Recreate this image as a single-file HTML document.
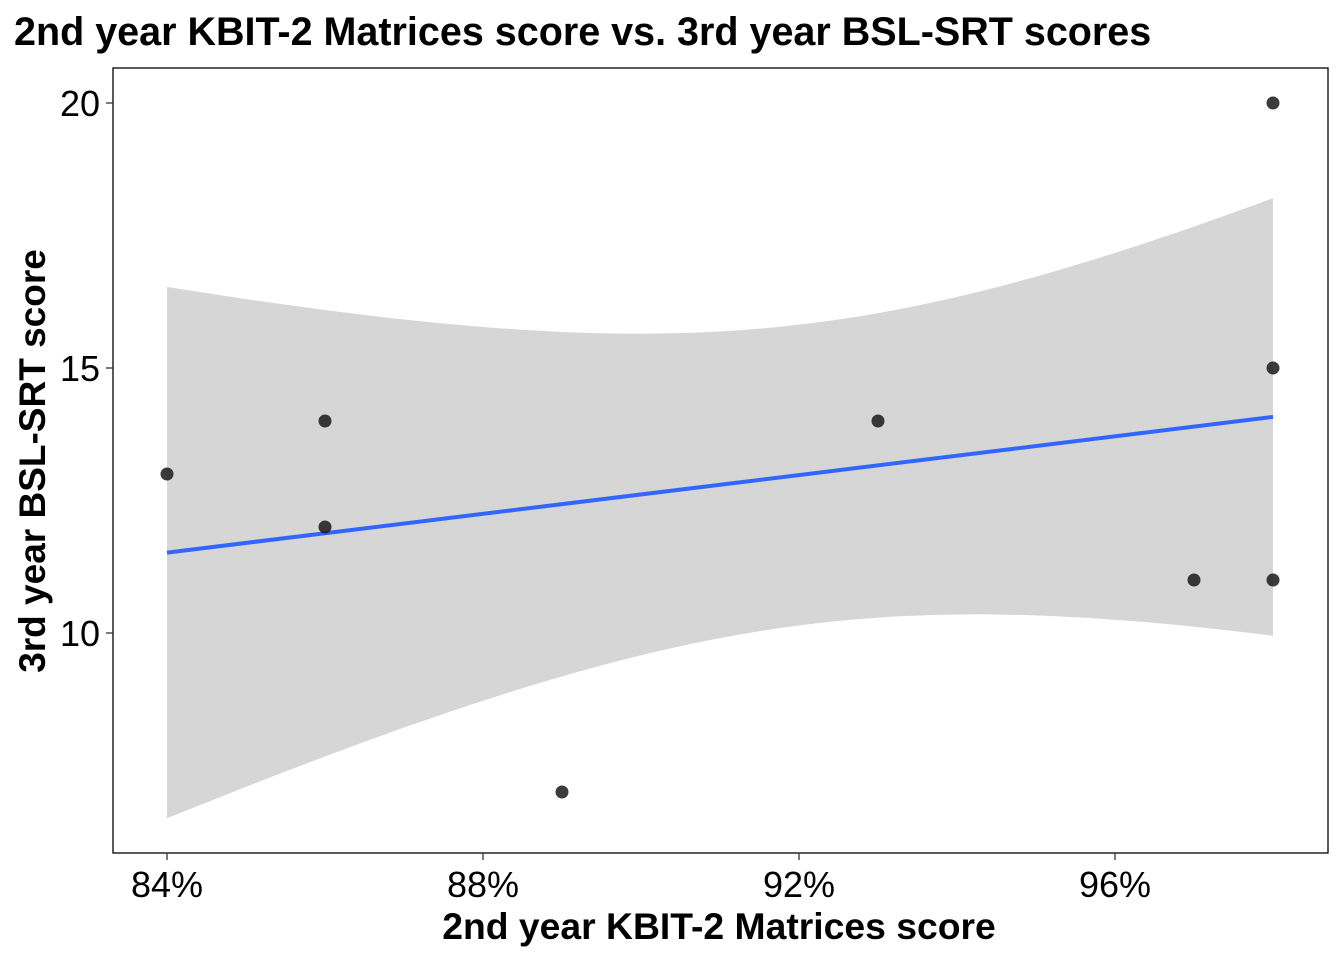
<!DOCTYPE html>
<html><head><meta charset="utf-8"><style>
html,body{margin:0;padding:0;background:#fff;}
svg{display:block;font-family:"Liberation Sans",Arial,sans-serif;}
</style></head><body>
<svg id="chart" width="1344" height="960">
<text x="14" y="45" font-size="39.5" font-weight="bold" fill="#000">2nd year KBIT-2 Matrices score vs. 3rd year BSL-SRT scores</text>
<g id="band"></g><g id="line"></g><g id="pts"></g>
<rect x="113" y="68" width="1215" height="785" fill="none" stroke="#000" stroke-width="1.3"/>
<g id="ticks"></g>
<text x="719" y="939" font-size="37.3" font-weight="bold" text-anchor="middle">2nd year KBIT-2 Matrices score</text>
<text transform="translate(45,461) rotate(-90)" font-size="37" font-weight="bold" text-anchor="middle">3rd year BSL-SRT score</text>
</svg>
<script>
const xValues = [84, 86, 86, 89, 93, 97, 98, 98, 98];
const yValues = [13, 14, 12, 7, 14, 11, 20, 15, 11];
const xTicks = [84, 88, 92, 96];
const yTicks = [10, 15, 20];
const NS = "http://www.w3.org/2000/svg";
const sx = v => 167 + (v - 84) * 79;
const sy = v => 103 + (20 - v) * 53;
function mk(tag, attrs, parent){const e=document.createElementNS(NS,tag);for(const k in attrs)e.setAttribute(k,attrs[k]);parent.appendChild(e);return e;}
const n=xValues.length;
const mx=xValues.reduce((a,b)=>a+b)/n, my=yValues.reduce((a,b)=>a+b)/n;
let sxx=0,sxy=0;for(let i=0;i<n;i++){sxx+=(xValues[i]-mx)**2;sxy+=(xValues[i]-mx)*(yValues[i]-my);}
const b=sxy/sxx,a=my-b*mx;
let sse=0;for(let i=0;i<n;i++)sse+=(yValues[i]-a-b*xValues[i])**2;
const s=Math.sqrt(sse/(n-2)), t=2.3646;
const x0=Math.min(...xValues), x1=Math.max(...xValues);
let up=[],lo=[];
for(let k=0;k<=80;k++){const x=x0+(x1-x0)*k/80;const f=a+b*x;const se=s*Math.sqrt(1/n+(x-mx)**2/sxx);
up.push(sx(x).toFixed(1)+","+sy(f+t*se).toFixed(1));lo.unshift(sx(x).toFixed(1)+","+sy(f-t*se).toFixed(1));}
const band=mk("polygon",{points:up.concat(lo).join(" "),fill:"#d6d6d6"},document.getElementById("band"));


const ln=mk("line",{x1:sx(x0),y1:sy(a+b*x0),x2:sx(x1),y2:sy(a+b*x1),stroke:"#3366ff","stroke-width":4},document.getElementById("line"));


const pg=document.getElementById("pts");
for(let i=0;i<n;i++){const c=mk("circle",{cx:sx(xValues[i]),cy:sy(yValues[i]),r:6.5,fill:"#1a1a1a","fill-opacity":0.85},pg);

}
const tg=document.getElementById("ticks");
xTicks.forEach(v=>{mk("line",{x1:sx(v),x2:sx(v),y1:853,y2:860,stroke:"#333","stroke-width":1.3},tg);
const tx=mk("text",{x:sx(v),y:897,"font-size":36,"text-anchor":"middle",fill:"#000"},tg);tx.textContent=v+"%";

});
yTicks.forEach(v=>{mk("line",{x1:106,x2:113,y1:sy(v),y2:sy(v),stroke:"#333","stroke-width":1.3},tg);
const tx=mk("text",{x:100,y:sy(v)+13,"font-size":36,"text-anchor":"end",fill:"#000"},tg);tx.textContent=v;

});
</script>
</body></html>
